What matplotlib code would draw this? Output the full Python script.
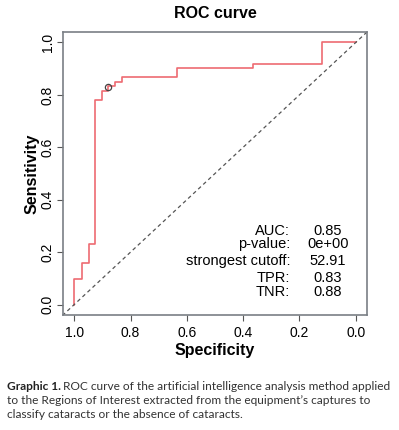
import matplotlib
matplotlib.use("Agg")
import matplotlib.pyplot as plt

# ROC data (specificity, sensitivity) step points
specificity = [1.0, 1.0, 0.973, 0.949, 0.925, 0.901, 0.88, 0.857, 0.830, 0.635, 0.365, 0.12, 0.0]
sensitivity = [0.0, 0.097, 0.158, 0.23, 0.78, 0.815, 0.833, 0.85, 0.868, 0.903, 0.917, 1.0, 1.0]
best_point = (0.88, 0.83)
stat_labels = ["AUC:", "p-value:", "strongest cutoff:", "TPR:", "TNR:"]
stat_values = ["0.85", "0e+00", "52.91", "0.83", "0.88"]
ticks = [1.0, 0.8, 0.6, 0.4, 0.2, 0.0]
tick_labels = ["1.0", "0.8", "0.6", "0.4", "0.2", "0.0"]

plt.rcParams['font.family'] = ['Liberation Sans', 'DejaVu Sans']

W, H = 399, 430
fig = plt.figure(figsize=(W / 100, H / 100), dpi=100)
L, R, T, B = 63, 367, 32, 315
ax = fig.add_axes([L / W, 1 - B / H, (R - L) / W, (B - T) / H])

ax.plot(specificity, sensitivity, drawstyle='steps-post', color='#ee6b72', lw=1.2)
ax.axline((1, 0), (0, 1), color='#555555', ls=(0, (3, 2.5)), lw=0.9)
ax.plot(*best_point, marker='o', ms=4.5, mfc='none', mec='#444444', mew=0.9)

ax.set_xlim(1.04, -0.04)
ax.set_ylim(-0.04, 1.04)
ax.set_xticks(ticks)
ax.set_xticklabels(tick_labels)
ax.set_yticks(ticks)
ax.set_yticklabels(tick_labels, rotation=90, va='center')
ax.tick_params(direction='out', length=4, width=0.8, colors='#555555', labelcolor='black', labelsize=10, pad=4)
ax.tick_params(axis='y', pad=2)
for s in ax.spines.values():
    s.set_color('#7a7f85')
    s.set_linewidth(1.2)

ax.set_xlabel('Specificity', fontsize=11.5, fontweight='bold', labelpad=2)
ax.set_ylabel('Sensitivity', fontsize=11.5, fontweight='bold', labelpad=1)
ax.set_title('ROC curve', fontsize=11.5, fontweight='bold', pad=10)

row_y = [230.7, 244.0, 261.0, 277.5, 291.7]
for lab, val, y in zip(stat_labels, stat_values, row_y):
    fy = (B - y) / (B - T)
    ax.text((290 - L) / (R - L), fy, lab, transform=ax.transAxes, ha='right', va='center', fontsize=10.5)
    ax.text((328 - L) / (R - L), fy, val, transform=ax.transAxes, ha='center', va='center', fontsize=10.5)

cap_font = ['Lato', 'DejaVu Sans']
capc = '#333333'
cs = 8.6
fig.text(7 / W, 1 - 386 / H, 'Graphic 1.', fontsize=cs, fontweight='bold', family=cap_font, color='#222222', va='center')
fig.text(63 / W, 1 - 386 / H, 'ROC curve of the artificial intelligence analysis method applied',
         fontsize=cs, family=cap_font, color=capc, va='center')
fig.text(7 / W, 1 - 400 / H, "to the Regions of Interest extracted from the equipment\u2019s captures to",
         fontsize=cs, family=cap_font, color=capc, va='center')
fig.text(7 / W, 1 - 414.5 / H, 'classify cataracts or the absence of cataracts.',
         fontsize=cs, family=cap_font, color=capc, va='center')

fig.savefig('out.png', dpi=100)
